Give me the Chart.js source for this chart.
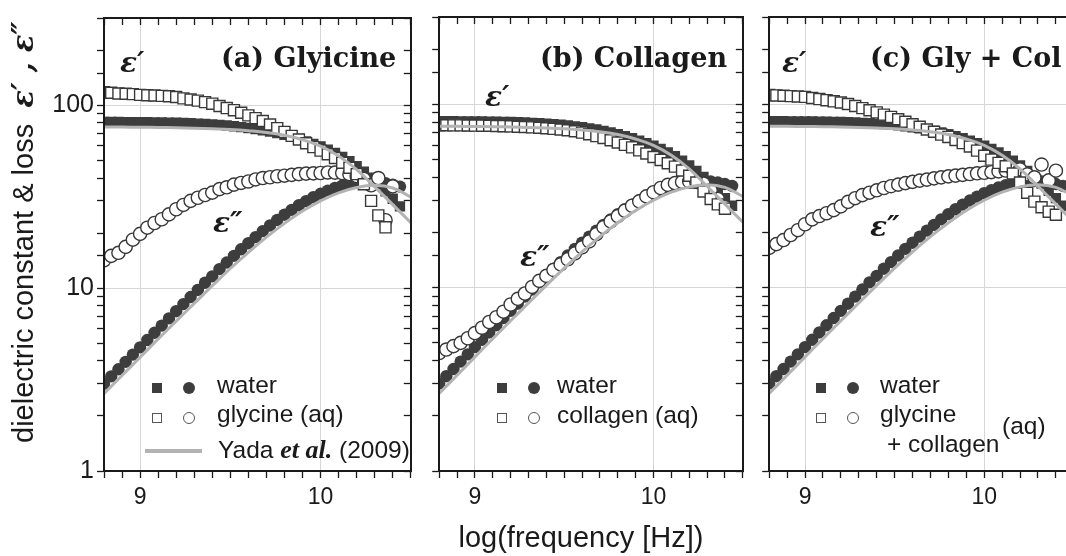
<!DOCTYPE html>
<html>
<head>
<meta charset="utf-8">
<script src="https://cdn.jsdelivr.net/npm/chart.js@4.4.1/dist/chart.umd.min.js"></script>
<style>
  html, body { margin: 0; padding: 0; background: #fff; }
  body { width: 1066px; height: 556px; overflow: hidden; position: relative;
         font-family: "Liberation Sans", Arial, sans-serif; color: #1a1a1a; }
  canvas { position: absolute; top: 0; }
  .txt { position: absolute; white-space: nowrap; line-height: 1; }
  .lg { font-size: 24.5px; }
  .ttl { font-family: "DejaVu Serif", serif; font-weight: bold; font-size: 27px; }
  .eps { font-family: "DejaVu Serif", serif; font-weight: bold; font-style: italic; font-size: 28px; }
  .ser { font-family: "DejaVu Serif", serif; font-weight: bold; font-style: italic; }
  .etal { font-family: "Liberation Serif", serif; font-weight: bold; font-style: italic; font-size: 26px; }
  .sym { position: absolute; box-sizing: border-box; transform: translate(-50%, -50%); }
  .sq { width: 10px; height: 10px; }
  .ci { width: 12px; height: 12px; border-radius: 50%; }
  .fill { background: #3d3d3d; }
  .open { background: #fff; border: 1.4px solid #555; }
  .yline { position: absolute; height: 4px; background: #b3b3b3; }
</style>
</head>
<body>
<canvas id="panelA" width="420" height="556" style="left:0px"></canvas>
<canvas id="panelB" width="322" height="556" style="left:430px"></canvas>
<canvas id="panelC" width="323" height="556" style="left:760px"></canvas>

<!-- axis titles -->
<div class="txt" style="left:8.5px; top:443px; font-size:29px; transform-origin:0 0; transform:rotate(-90deg);">dielectric constant &amp; loss&nbsp;&nbsp;<span class="ser">ε′ , ε″</span></div>
<div class="txt" style="left:581px; top:523px; font-size:29px; transform:translateX(-50%);">log(frequency [Hz])</div>

<!-- panel labels -->
<div class="txt ttl" style="left:221px; top:44px;">(a) Glyicine</div>
<div class="txt ttl" style="left:540px; top:44px;">(b) Collagen</div>
<div class="txt ttl" style="left:870px; top:44px;">(c) Gly + Col</div>
<div class="txt eps" style="left:120px; top:49px;">ε′</div>
<div class="txt eps" style="left:213px; top:209px;">ε″</div>
<div class="txt eps" style="left:485px; top:83px;">ε′</div>
<div class="txt eps" style="left:520px; top:243px;">ε″</div>
<div class="txt eps" style="left:782px; top:49px;">ε′</div>
<div class="txt eps" style="left:870px; top:213px;">ε″</div>

<!-- legend (a) -->
<div class="sym sq fill" style="left:157px; top:388px;"></div>
<div class="sym ci fill" style="left:189px; top:388px;"></div>
<div class="txt lg" style="left:217px; top:373px;">water</div>
<div class="sym sq open" style="left:157px; top:418px;"></div>
<div class="sym ci open" style="left:189px; top:418px;"></div>
<div class="txt lg" style="left:217px; top:402px;">glycine (aq)</div>
<div class="yline" style="left:145px; top:449px; width:57px;"></div>
<div class="txt lg" style="left:218px; top:437px;">Yada <span class="etal">et al.</span> (2009)</div>

<!-- legend (b) -->
<div class="sym sq fill" style="left:502px; top:388px;"></div>
<div class="sym ci fill" style="left:534px; top:388px;"></div>
<div class="txt lg" style="left:557px; top:373px;">water</div>
<div class="sym sq open" style="left:502px; top:418px;"></div>
<div class="sym ci open" style="left:534px; top:418px;"></div>
<div class="txt lg" style="left:557px; top:403px;">collagen (aq)</div>

<!-- legend (c) -->
<div class="sym sq fill" style="left:821px; top:388px;"></div>
<div class="sym ci fill" style="left:853px; top:388px;"></div>
<div class="txt lg" style="left:880px; top:373px;">water</div>
<div class="sym sq open" style="left:821px; top:418px;"></div>
<div class="sym ci open" style="left:853px; top:418px;"></div>
<div class="txt lg" style="left:880px; top:402px;">glycine</div>
<div class="txt lg" style="left:887px; top:432px;">+ collagen</div>
<div class="txt lg" style="left:1002px; top:414px;">(aq)</div>

<script>
// log10 of frequency for the measured points
const logF = [8.80, 8.84, 8.88, 8.92, 8.96, 9.00, 9.04, 9.08, 9.12, 9.16,
  9.20, 9.24, 9.28, 9.32, 9.36, 9.40, 9.44, 9.48, 9.52, 9.56,
  9.60, 9.64, 9.68, 9.72, 9.76, 9.80, 9.84, 9.88, 9.92, 9.96,
  10.00, 10.04, 10.08, 10.12, 10.16, 10.20, 10.24, 10.28, 10.32, 10.36,
  10.40, 10.44];

// water (filled symbols), same in all panels
const waterEps1 = [81.0, 81.0, 81.0, 80.9, 80.9, 80.8, 80.7, 80.6, 80.5, 80.4,
  80.2, 80.0, 79.7, 79.4, 79.0, 78.6, 78.1, 77.5, 76.8, 76.0,
  75.1, 74.1, 73.0, 71.8, 70.4, 68.9, 67.2, 65.4, 63.5, 61.5,
  59.5, 57.2, 54.8, 52.2, 49.4, 46.5, 43.4, 40.2, 37.0, 33.8,
  30.8, 28.0];
const waterEps2 = [3.0, 3.29, 3.6, 3.95, 4.33, 4.74, 5.2, 5.7, 6.24, 6.83,
  7.48, 8.18, 8.94, 9.77, 10.7, 11.6, 12.7, 13.8, 15.0, 16.3,
  17.6, 19.0, 20.5, 22.0, 23.6, 25.2, 26.8, 28.4, 29.9, 31.4,
  32.8, 34.1, 35.3, 36.3, 37.1, 37.7, 38.1, 38.2, 38.0, 37.5,
  36.8, 35.9];

// (a) glycine (aq)
const glyEps1 = [118, 117, 116, 115.5, 115, 114, 113.5, 113, 112.5, 112,
  111, 109, 107.5, 106, 104, 102, 99, 96.5, 94, 91,
  88, 85, 82, 78.5, 75, 71.5, 68, 65, 62, 59,
  56.5, 54, 51.5, 48.5, 45.5, 42, 37, 30, 25, 21.5];
const glyEps2 = [14.2, 15.0, 15.6, 16.8, 18.4, 19.8, 21.4, 22.7, 23.8, 25.3,
  27.0, 28.5, 30.0, 31.2, 32.3, 33.3, 34.8, 35.6, 36.8, 37.6,
  38.3, 39.3, 40.0, 40.4, 40.9, 41.2, 41.6, 42.0, 42.3, 42.4,
  42.6, 42.9, 42.8, 42.6, 42.0, 41.0, 39.5, 36.5, 40.0, 23.5,
  36.0];

// (b) collagen (aq)
const colEps1 = [77.0, 77.0, 76.9, 76.9, 76.8, 76.7, 76.6, 76.5, 76.3, 76.1,
  75.9, 75.6, 75.3, 75.0, 74.6, 74.2, 73.6, 73.0, 72.3, 71.4,
  70.2, 68.8, 67.2, 65.6, 63.8, 62.0, 60.2, 58.3, 56.2, 54.0,
  51.7, 49.8, 47.8, 45.8, 43.6, 40.8, 37.5, 33.5, 30.5, 28.5,
  27.0];
const colEps2 = [4.4, 4.6, 4.8, 5.0, 5.3, 5.65, 6.05, 6.5, 6.9, 7.4,
  8.1, 8.7, 9.3, 10.1, 10.9, 11.6, 12.5, 13.4, 14.3, 15.4,
  16.6, 17.9, 19.6, 21.4, 23.0, 24.6, 26.3, 28.0, 29.6, 31.5,
  33.2, 35.0, 36.4, 37.2, 37.8, 38.0, 37.8, 37.0, 34.0, 30.5,
  27.5];

// (c) glycine + collagen (aq)
const mixEps1 = [112.5, 112, 111.5, 111, 110.5, 110, 108.5, 107, 105.5, 104,
  102.5, 100.5, 98, 95.5, 93, 90.5, 88, 85.5, 83, 80.5,
  78, 75.5, 73, 71, 68.5, 66.5, 64, 61.5, 59, 56,
  52.5, 50, 48, 46, 42, 37.5, 33, 29.5, 27.5, 26,
  25];
const mixEps2 = [16.5, 17.3, 18.2, 19.4, 20.6, 22.2, 23.6, 24.6, 25.5, 26.5,
  27.8, 29.4, 30.8, 32.0, 33.0, 34.0, 35.0, 35.8, 36.5, 37.2,
  37.8, 38.4, 38.9, 39.5, 40.0, 40.5, 40.9, 41.3, 41.7, 42.1,
  42.4, 42.7, 43.1, 43.6, 44.0, 44.2, 41.5, 40.0, 47.0, 38.5,
  43.5];

// Yada et al. (2009) reference curves
const yadaF = [8.8, 8.9, 9.0, 9.1, 9.2, 9.3, 9.4, 9.5, 9.6, 9.7,
  9.8, 9.9, 10.0, 10.1, 10.2, 10.3, 10.4, 10.5];
const yadaEps1 = [76.0, 76.0, 75.8, 75.6, 75.3, 74.9, 74.3, 73.6, 72.5, 71.0,
  68.5, 64.8, 59.8, 52.8, 44.5, 35.8, 28.6, 22.8];
const yadaEps2 = [2.65, 3.33, 4.19, 5.27, 6.6, 8.25, 10.3, 12.8, 15.7, 19.0,
  22.6, 26.4, 30.0, 33.2, 35.5, 36.5, 35.3, 31.5];

const xTickLabels = [9, 10];
const yTickLabels = [1, 10, 100];

const INK = "#1a1a1a";
const DARK = "#3d3d3d";
const GRID = "#d6d6d6";
const YADA = "#b3b3b3";
const CLEAR = "rgba(0,0,0,0)";

const pts = (xs, ys) => ys.map((y, i) => ({ x: xs[i], y }));
const hit = (v, list) => list.some((t) => Math.abs(v - t) < 1e-6);

function buildPanel(id, e1, e2, leftWidth, showYLabels) {
  const datasets = [
    { data: pts(yadaF, yadaEps1), showLine: true, pointRadius: 0, borderColor: YADA, borderWidth: 3, tension: 0.4, order: 0 },
    { data: pts(yadaF, yadaEps2), showLine: true, pointRadius: 0, borderColor: YADA, borderWidth: 3, tension: 0.4, order: 0 },
    { data: pts(logF, e1), pointStyle: "rect", pointRadius: 7.8, backgroundColor: "#fff", borderColor: "#383838", borderWidth: 1.4, order: 1 },
    { data: pts(logF, e2), pointStyle: "circle", pointRadius: 6.6, backgroundColor: "#fff", borderColor: "#383838", borderWidth: 1.4, order: 1 },
    { data: pts(logF, waterEps1), pointStyle: "rect", pointRadius: 7.3, backgroundColor: DARK, borderColor: DARK, borderWidth: 0, order: 2 },
    { data: pts(logF, waterEps2), pointStyle: "circle", pointRadius: 6.2, backgroundColor: DARK, borderColor: DARK, borderWidth: 0, order: 2 },
  ];
  datasets.forEach((d) => { d.xAxisID = "x"; d.yAxisID = "y"; d.pointHoverRadius = d.pointRadius; });

  const border = { color: INK, width: 2, z: 1 };

  return new Chart(document.getElementById(id), {
    type: "scatter",
    data: { datasets },
    options: {
      responsive: false,
      animation: false,
      devicePixelRatio: 1,
      layout: { padding: 0 },
      plugins: { legend: { display: false }, tooltip: { enabled: false } },
      scales: {
        x: {
          type: "linear", position: "bottom", min: 8.8, max: 10.5,
          ticks: {
            stepSize: 0.1, autoSkip: false, maxRotation: 0, padding: 6, color: INK,
            font: { family: "Liberation Sans", size: 23 },
            callback: (v) => (hit(v, xTickLabels) ? String(Math.round(v)) : ""),
          },
          grid: { color: (c) => (c.tick && hit(c.tick.value, xTickLabels) ? GRID : CLEAR), tickColor: INK, tickLength: 7, tickWidth: 1.3 },
          border,
          afterFit: (s) => { s.height = 85; },
        },
        xTop: {
          type: "linear", position: "top", min: 8.8, max: 10.5,
          ticks: { stepSize: 0.1, display: false },
          grid: { drawOnChartArea: false, tickColor: INK, tickLength: -7, tickWidth: 1.3 },
          border,
          afterFit: (s) => { s.height = 17; },
        },
        y: {
          type: "logarithmic", position: "left", min: 1, max: 300,
          ticks: {
            display: showYLabels, autoSkip: false, padding: 3, color: INK,
            font: { family: "Liberation Sans", size: 25 },
            callback: (v) => (hit(v, yTickLabels) ? String(v) : ""),
          },
          grid: { color: (c) => (c.tick && hit(c.tick.value, [10, 100]) ? GRID : CLEAR), tickColor: INK, tickLength: 7, tickWidth: 1.3 },
          border,
          afterFit: (s) => { s.width = leftWidth; },
        },
        yRight: {
          type: "logarithmic", position: "right", min: 1, max: 300,
          ticks: { display: false },
          grid: { drawOnChartArea: false, tickColor: INK, tickLength: -7, tickWidth: 1.3 },
          border,
          afterFit: (s) => { s.width = 7; },
        },
      },
    },
  });
}

buildPanel("panelA", glyEps1, glyEps2, 104, true);
buildPanel("panelB", colEps1, colEps2, 8, false);
buildPanel("panelC", mixEps1, mixEps2, 8, false);
</script>
</body>
</html>
